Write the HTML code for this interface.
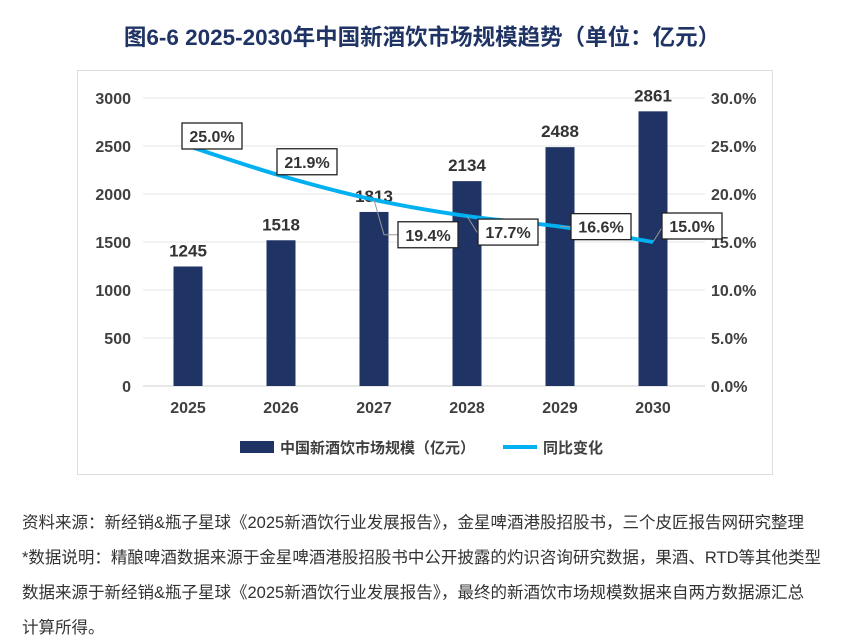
<!DOCTYPE html>
<html><head><meta charset="utf-8"><style>
body{margin:0;background:#fff;width:864px;height:643px;overflow:hidden;font-family:"Liberation Sans","Noto Sans CJK SC",sans-serif}
.foot{position:absolute;left:22px;font-size:16.5px;color:#333;white-space:nowrap}
</style></head><body>
<div style="position:absolute;left:0;width:844px;top:20px;text-align:center;font-size:22.5px;font-weight:bold;color:#1f3464">图6-6 2025-2030年中国新酒饮市场规模趋势（单位：亿元）</div>
<svg id="chart" width="864" height="643" style="position:absolute;left:0;top:0">
<rect x="77.5" y="70.5" width="695" height="404" fill="none" stroke="#ddd"/>
<g id="g"></g>
</svg>
<div class="foot" style="top:509px">资料来源：新经销&amp;瓶子星球《2025新酒饮行业发展报告》，金星啤酒港股招股书，三个皮匠报告网研究整理</div>
<div class="foot" style="top:544px">*数据说明：精酿啤酒数据来源于金星啤酒港股招股书中公开披露的灼识咨询研究数据，果酒、RTD等其他类型</div>
<div class="foot" style="top:579px">数据来源于新经销&amp;瓶子星球《2025新酒饮行业发展报告》，最终的新酒饮市场规模数据来自两方数据源汇总</div>
<div class="foot" style="top:614px">计算所得。</div>
<script>
const years=["2025","2026","2027","2028","2029","2030"];
const sizes=[1245,1518,1813,2134,2488,2861];
const growth=[25.0,21.9,19.4,17.7,16.6,15.0];
const leftTicks=[0,500,1000,1500,2000,2500,3000];
const rightTicks=[0,5,10,15,20,25,30];
const NS="http://www.w3.org/2000/svg";
const g=document.getElementById('g');
const y0=386,yTop=98,x0=143,x1=705;
const yL=v=>y0-(v/3000)*(y0-yTop);
const yR=v=>y0-(v/30)*(y0-yTop);
const xC=i=>188+i*93;
function mk(t,a,txt){const e=document.createElementNS(NS,t);for(const k in a)e.setAttribute(k,a[k]);if(txt!=null)e.textContent=txt;g.appendChild(e);return e;}
leftTicks.forEach(v=>{
 const l=mk('line',{x1:x0,x2:x1,y1:yL(v),y2:yL(v),stroke:v?'#e4e4e4':'#d0d0d0'});
 
 const t=mk('text',{x:131,y:yL(v)+6,'text-anchor':'end','font-size':16,'font-weight':'bold',fill:'#404040'},v);
 
});
rightTicks.forEach(v=>{
 const t=mk('text',{x:711,y:yR(v)+6,'font-size':16,'font-weight':'bold',fill:'#404040'},v.toFixed(1)+'%');
 
});
years.forEach((y,i)=>{
 const b=mk('rect',{x:xC(i)-14.5,y:yL(sizes[i]),width:29,height:y0-yL(sizes[i]),fill:'#1f3464'});
 
 const v=mk('text',{x:xC(i),y:yL(sizes[i])-10,'text-anchor':'middle','font-size':17,'font-weight':'bold',fill:'#333'},sizes[i]);
 
 const t=mk('text',{x:xC(i),y:413,'text-anchor':'middle','font-size':16,'font-weight':'bold',fill:'#404040'},y);
 
});
const pts=growth.map((v,i)=>[xC(i),yR(v)]);
let d='M'+pts[0][0]+','+pts[0][1];
for(let i=0;i<pts.length-1;i++){const p0=pts[i-1]||pts[i],p1=pts[i],p2=pts[i+1],p3=pts[i+2]||p2;
 d+=` C${p1[0]+(p2[0]-p0[0])/6},${p1[1]+(p2[1]-p0[1])/6} ${p2[0]-(p3[0]-p1[0])/6},${p2[1]-(p3[1]-p1[1])/6} ${p2[0]},${p2[1]}`;}
const ln=mk('path',{d:d,fill:'none',stroke:'#00b0f0','stroke-width':4});

const off=[[24,-10],[26,-14],[54,35],[41,16],[41,0],[39,-16]];
growth.forEach((v,i)=>{
 const cx=pts[i][0]+off[i][0],cy=pts[i][1]+off[i][1];
 if(i>=2){const c=mk('polyline',{points:`${pts[i][0]},${pts[i][1]} ${pts[i][0]+10},${cy} ${cx-30},${cy}`,fill:'none',stroke:'#999','stroke-width':1});
  }
 const r=mk('rect',{x:cx-30,y:cy-13,width:60,height:26,fill:'#fff',stroke:'#222','stroke-width':1.3});
 
 const t=mk('text',{x:cx,y:cy+6,'text-anchor':'middle','font-size':16,'font-weight':'bold',fill:'#333'},v.toFixed(1)+'%');
 
});
const lb=mk('rect',{x:240,y:441,width:34,height:12,fill:'#1f3464'});

const lt=mk('text',{x:280,y:453,'font-size':15,'font-weight':'bold',fill:'#404040'},'中国新酒饮市场规模（亿元）');

const ll=mk('line',{x1:503,x2:537,y1:447,y2:447,stroke:'#00b0f0','stroke-width':4});

const lt2=mk('text',{x:543,y:453,'font-size':15,'font-weight':'bold',fill:'#404040'},'同比变化');

</script>
</body></html>
